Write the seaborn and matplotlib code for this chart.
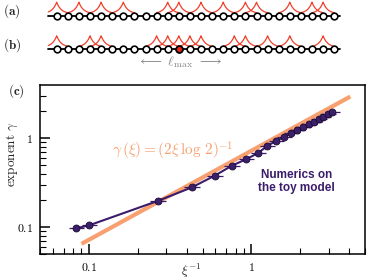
import numpy as np
import matplotlib
matplotlib.use("Agg")
import matplotlib.pyplot as plt
import seaborn as sns
from matplotlib.ticker import FixedLocator, FixedFormatter, LogLocator, NullFormatter

# --- chain cartoons (a) and (b) ---
n_sites = 26
peaks_a = [0, 2, 4, 6, 10, 11, 13, 15, 17, 18, 21, 23, 24]
peaks_b = [0, 3, 4, 9, 10, 11, 12, 13, 16, 17, 19, 21, 24]
red_site_b = 11

# --- panel (c) data ---
inv_xi = [0.0836, 0.1004, 0.265, 0.430, 0.593, 0.757, 0.932, 1.098, 1.254, 1.423,
          1.594, 1.760, 1.915, 2.073, 2.257, 2.421, 2.598, 2.765, 2.951, 3.14]
gamma = [0.0972, 0.105, 0.197, 0.280, 0.378, 0.490, 0.582, 0.679, 0.820, 0.933,
         1.034, 1.137, 1.239, 1.328, 1.435, 1.534, 1.632, 1.732, 1.857, 1.970]
theory_x = [0.09, 4.06]
theory_y = [0.065, 2.93]

sns.set_style("ticks")
plt.rcParams["mathtext.fontset"] = "cm"
plt.rcParams["font.family"] = ["DejaVu Serif"]

RED = "#f0402a"
ORANGE = "#f8a070"
PURPLE = "#3b1c6b"

fig = plt.figure(figsize=(3.74, 2.8), dpi=100)

# top cartoon axes in pixel-like units
ax0 = fig.add_axes([0, 1 - 75 / 280, 1, 75 / 280])
ax0.set_xlim((0 - 56.7) / 11.1, (374 - 56.7) / 11.1)
ax0.set_ylim(75, 0)
ax0.axis("off")

x_lo, x_hi = -0.76, 25.5


def draw_chain(ax, y0, peaks, red=None):
    ax.plot([x_lo, x_hi], [y0, y0], color="k", lw=1.3, zorder=2)
    d = np.linspace(-1, 1, 101)
    shape = 3 + 10.5 * (np.exp(-np.abs(d) / 0.4) - np.exp(-2.5)) / (1 - np.exp(-2.5))
    for p in peaks:
        xs = p + d
        keep = (xs >= x_lo) & (xs <= x_hi)
        ax.plot(xs[keep], (y0 - shape)[keep], color=RED, lw=0.9, zorder=1)
    sites = np.arange(n_sites)
    ax.plot(sites, [y0] * n_sites, "o", mfc="white", mec="k", ms=4.8, mew=1.2, zorder=3)
    if red is not None:
        ax.plot([red], [y0], "o", mfc="#e8261a", mec="k", ms=4.8, mew=1.2, zorder=4)


draw_chain(ax0, 15.7, peaks_a)
draw_chain(ax0, 49.3, peaks_b, red_site_b)

ax0.text((3 - 56.7) / 11.1, 11.5, r"$\mathbf{(a)}$", fontsize=9.5, va="center", ha="left")
ax0.text((3 - 56.7) / 11.1, 45.5, r"$\mathbf{(b)}$", fontsize=9.5, va="center", ha="left")
ax0.text((180 - 56.7) / 11.1, 62.5, r"$\longleftarrow\ \ell_{\max}\ \longrightarrow$",
         fontsize=10, color="#8a8a8a", ha="center", va="center")

# main panel (c)
ax = fig.add_axes([40 / 374, 26 / 280, 325 / 374, 169 / 280])
ax.set_xscale("log")
ax.set_yscale("log")

sns.lineplot(x=theory_x, y=theory_y, ax=ax, color=ORANGE, lw=3, solid_capstyle="butt",
             estimator=None, zorder=2)
ax.errorbar(inv_xi, gamma, xerr=[[0.1 * v for v in inv_xi], [0.12 * v for v in inv_xi]],
            fmt="none", ecolor=PURPLE, elinewidth=0.9, zorder=3)
sns.lineplot(x=inv_xi, y=gamma, ax=ax, color=PURPLE, lw=1.5, marker="o", ms=5,
             mfc="#3a1f6a", mec="#1a0a30", mew=0.6, estimator=None, zorder=4)

ax.set_xlim(0.05, 5.0)
ax.set_ylim(0.05, 3.95)

for s in ax.spines.values():
    s.set_linewidth(1.1)
    s.set_color("k")

ax.xaxis.set_major_locator(FixedLocator([0.1, 1]))
ax.xaxis.set_major_formatter(FixedFormatter([r"$0.1$", r"$1$"]))
ax.yaxis.set_major_locator(FixedLocator([0.1, 1]))
ax.yaxis.set_major_formatter(FixedFormatter([r"$0.1$", r"$1$"]))
ax.xaxis.set_minor_locator(LogLocator(base=10, subs=np.arange(2, 10)))
ax.yaxis.set_minor_locator(LogLocator(base=10, subs=np.arange(2, 10)))
ax.xaxis.set_minor_formatter(NullFormatter())
ax.yaxis.set_minor_formatter(NullFormatter())
ax.tick_params(which="both", direction="in", top=False, right=False, colors="k")
ax.tick_params(which="major", length=7, width=1.1, labelsize=8.5, pad=5)
ax.tick_params(which="minor", length=4, width=0.8)

ax.set_xlabel(r"$\xi^{-1}$", fontsize=9.5)
ax.xaxis.set_label_coords(0.466, -0.045)
ax.set_ylabel(r"$\mathrm{exponent}\ \gamma$", fontsize=9.5)
ax.yaxis.set_label_coords(-0.06, 0.592)

ax.text(0.222, 0.609, r"$\gamma\,(\xi) = (2\xi\,\log\,2)^{-1}$", transform=ax.transAxes,
        color=ORANGE, fontsize=11, ha="left", va="center")
ax.text(0.79, 0.429, "Numerics on\nthe toy model", transform=ax.transAxes,
        color=PURPLE, fontsize=8.5, fontweight="bold", family=["Liberation Sans"],
        ha="center", va="center", linespacing=1.15)

fig.text(8 / 374, 1 - 91.5 / 280, r"$\mathbf{(c)}$", fontsize=9.5, va="center", ha="left")

fig.savefig("out.png", dpi=100)
